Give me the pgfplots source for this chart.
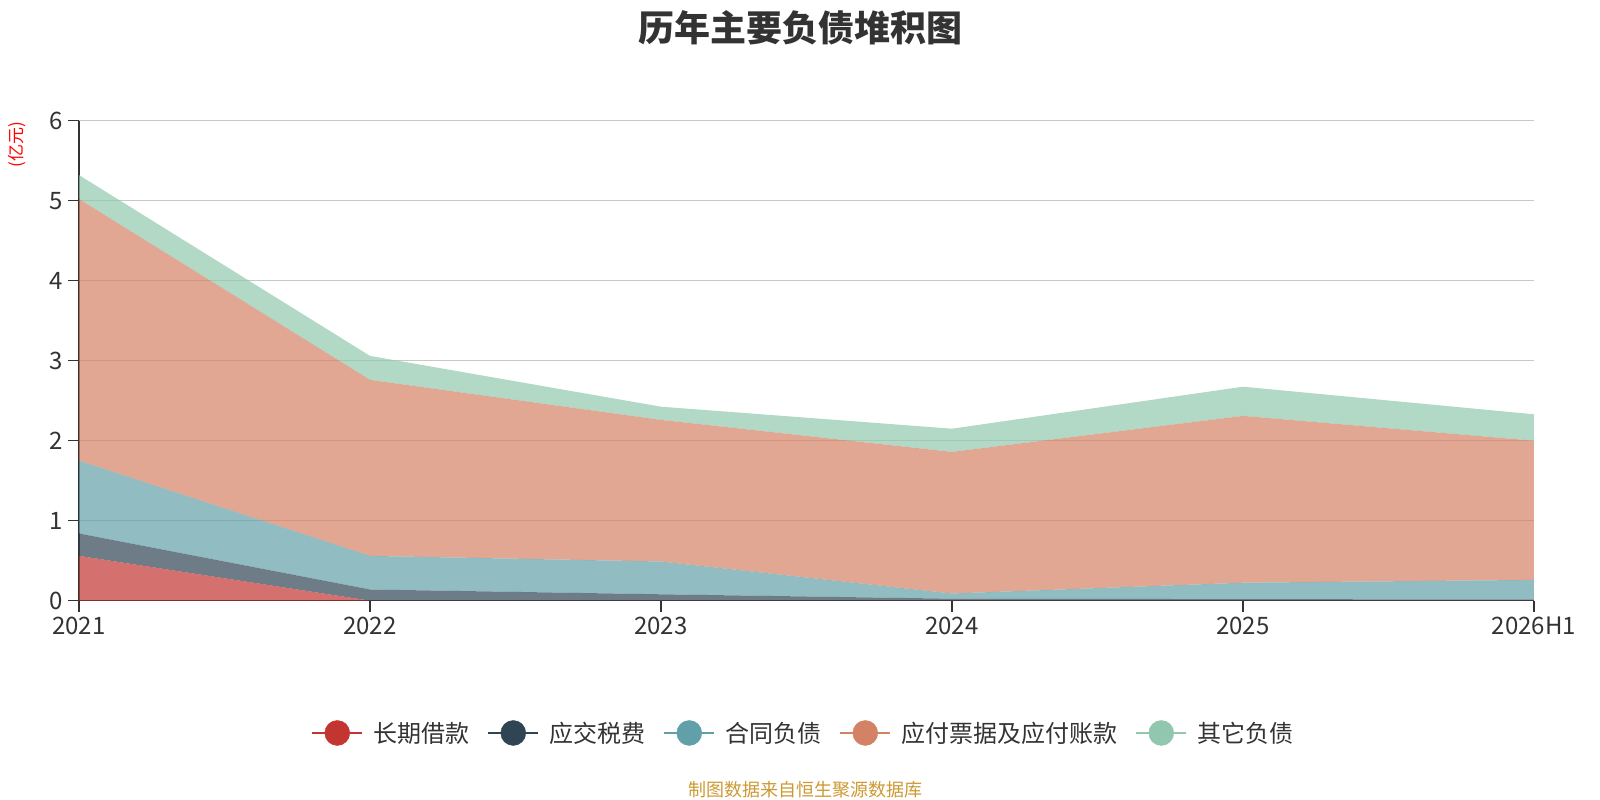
\documentclass[border=0pt]{standalone}
\usepackage{fontspec}
\setmainfont{Noto Sans CJK SC}
\usepackage{pgfplots}
\pgfplotsset{compat=1.18}
\definecolor{cA}{HTML}{C23531}
\definecolor{cB}{HTML}{2F4554}
\definecolor{cC}{HTML}{61A0A8}
\definecolor{cD}{HTML}{D48265}
\definecolor{cE}{HTML}{91C7AE}
\definecolor{tx}{HTML}{333333}
\definecolor{gridc}{HTML}{C8C8C8}
\definecolor{src}{HTML}{CC9933}
\begin{document}
\begin{tikzpicture}
\useasboundingbox (0pt,0pt) rectangle (1600pt,800pt);
\begin{axis}[
  at={(79pt,199.3pt)}, anchor=south west,
  scale only axis, width=1455pt, height=480pt,
  xmin=0, xmax=5, ymin=0, ymax=6,
  xtick={0,1,2,3,4,5},
  xticklabels={2021,2022,2023,2024,2025,2026H1},
  ytick={0,1,2,3,4,5,6},
  /pgf/number format/assume math mode=true,
  tick label style={font=\fontsize{24}{28}\selectfont, text=tx},
  axis x line*=bottom, axis y line*=left,
  axis line style={draw=tx, line width=1.5pt, -},
  tick style={draw=tx, line width=1.5pt},
  tick align=outside, major tick length=11pt,
  ymajorgrids, grid style={draw=gridc, line width=1.3pt},
  xticklabel style={yshift=-2pt},
  yticklabel style={xshift=-2pt},
  stack plots=y,
  legend columns=-1,
  legend style={at={(0.4978,-0.2756)}, anchor=center, draw=none, fill=none,
    font=\fontsize{24}{28}\selectfont, text=tx,
    /tikz/every even column/.append style={column sep=16pt}},
  legend image code/.code={\path[draw=none, fill=none] (0pt,-12pt) rectangle (59pt,12pt); \draw[#1, line width=2pt] (0pt,0pt)--(50pt,0pt); \fill[#1] (25pt,0pt) circle (12.5pt);},
]
\addplot[draw=none, fill=cA, fill opacity=0.7, forget plot] coordinates {(0,0.56) (1,0) (2,0) (3,0) (4,0) (5,0)} \closedcycle;
\addplot[draw=none, fill=cB, fill opacity=0.7, forget plot] coordinates {(0,0.28) (1,0.14) (2,0.08) (3,0.025) (4,0.02) (5,0.015)} \closedcycle;
\addplot[draw=none, fill=cC, fill opacity=0.7, forget plot] coordinates {(0,0.91) (1,0.42) (2,0.41) (3,0.065) (4,0.205) (5,0.245)} \closedcycle;
\addplot[draw=none, fill=cD, fill opacity=0.7, forget plot] coordinates {(0,3.27) (1,2.20) (2,1.77) (3,1.77) (4,2.085) (5,1.74)} \closedcycle;
\addplot[draw=none, fill=cE, fill opacity=0.7, forget plot] coordinates {(0,0.30) (1,0.30) (2,0.165) (3,0.29) (4,0.365) (5,0.33)} \closedcycle;
\addlegendimage{draw=cA, fill=cA}
\addlegendentry{长期借款}
\addlegendimage{draw=cB, fill=cB}
\addlegendentry{应交税费}
\addlegendimage{draw=cC, fill=cC}
\addlegendentry{合同负债}
\addlegendimage{draw=cD, fill=cD}
\addlegendentry{应付票据及应付账款}
\addlegendimage{draw=cE, fill=cE}
\addlegendentry{其它负债}
\end{axis}
\node[font=\bfseries\fontsize{36}{40}\selectfont, text=tx] at (800pt,772pt) {历年主要负债堆积图};
\node[font=\fontsize{17}{20}\selectfont, text=red, rotate=90] at (17pt,655pt) {(亿元)};
\node[font=\fontsize{18}{21}\selectfont, text=src] at (805pt,10pt) {制图数据来自恒生聚源数据库};
\end{tikzpicture}
\end{document}
